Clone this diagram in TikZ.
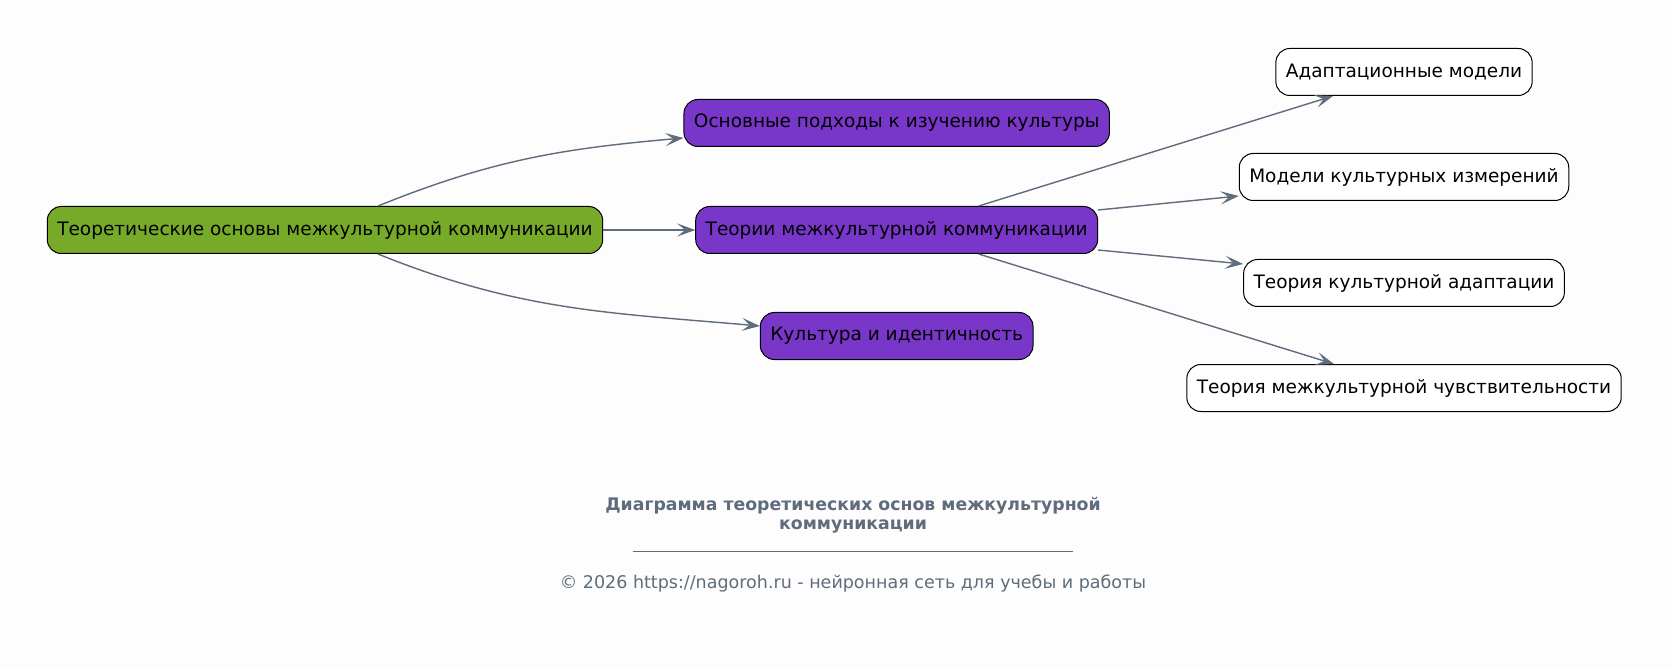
\documentclass[tikz,border=0pt]{standalone}
\usepackage{fontspec}
\setmainfont{DejaVu Sans}
\usetikzlibrary{positioning,arrows.meta}
\definecolor{rootgreen}{HTML}{78AA2A}
\definecolor{topicviolet}{HTML}{7837C8}
\definecolor{edgegray}{HTML}{5E6C7B}
\definecolor{pagebg}{HTML}{FDFDFD}

\begin{document}
\begin{tikzpicture}[x=1pt, y=-1pt, font=\fontsize{18.5}{22}\selectfont]
    % Styles
    \tikzstyle{topic} = [draw, rectangle, rounded corners=14pt, minimum height=47pt, inner xsep=10pt, line width=1pt, text=black]
    \tikzstyle{rootbox} = [topic, fill=rootgreen]
    \tikzstyle{subbox} = [topic, fill=topicviolet]
    \tikzstyle{leafbox} = [topic, fill=white]
    \tikzstyle{link} = [draw=edgegray, line width=1.4pt, -{Stealth[length=18pt, width=13pt, inset=8pt]}]
    \tikzstyle{title} = [text=edgegray, align=center, font=\fontsize{17.3}{19}\selectfont\bfseries]
    \tikzstyle{note} = [text=edgegray, font=\fontsize{17.5}{20}\selectfont]

    % Canvas
    \fill [pagebg] (0,0) rectangle (1671,668);
    \useasboundingbox (0,0) rectangle (1671,668);

    % Root and topics
    \node [rootbox] (Base) at (325,230) {Теоретические основы межкультурной коммуникации};
    \node [subbox, right=92pt of Base] (Theo) {Теории межкультурной коммуникации};
    \node [subbox, above=59pt of Theo] (Appr) {Основные подходы к изучению культуры};
    \node [subbox, below=58pt of Theo] (Ident) {Культура и идентичность};

    % Theories
    \node [leafbox] (Adapt) at (1404,72) {Адаптационные модели};
    \node [leafbox] (Dims) at (1404,177) {Модели культурных измерений};
    \node [leafbox] (Cult) at (1404,283) {Теория культурной адаптации};
    \node [leafbox] (Sens) at (1404,388) {Теория межкультурной чувствительности};

    % Edges
    \draw [link] ([xshift=53pt]Base.north) to[out=22, in=185] ([yshift=-15pt]Appr.west);
    \draw [link] (Base) -- (Theo);
    \draw [link] ([xshift=53pt]Base.south) to[out=-22, in=175] ([yshift=10pt]Ident.west);

    \draw [link] ([xshift=82pt]Theo.north) -- ([xshift=-71pt]Adapt.south);
    \draw [link] ([yshift=20pt]Theo.east) -- ([yshift=-19pt]Dims.west);
    \draw [link] ([yshift=-20pt]Theo.east) -- ([yshift=19pt]Cult.west);
    \draw [link] ([xshift=82pt]Theo.south) -- ([xshift=-70pt]Sens.north);

    % Caption
    \node [title] (Head) at (853,515) {Диаграмма теоретических основ межкультурной\\коммуникации};
    \coordinate (RuleL) at (633,551);
    \coordinate (RuleR) at (1073,551);
    \draw [edgegray, line width=0.6pt] (RuleL) -- (RuleR);
    \node [note] (Copy) at (853,584) {© 2026 https://nagoroh.ru - нейронная сеть для учебы и работы};
\end{tikzpicture}
\end{document}
